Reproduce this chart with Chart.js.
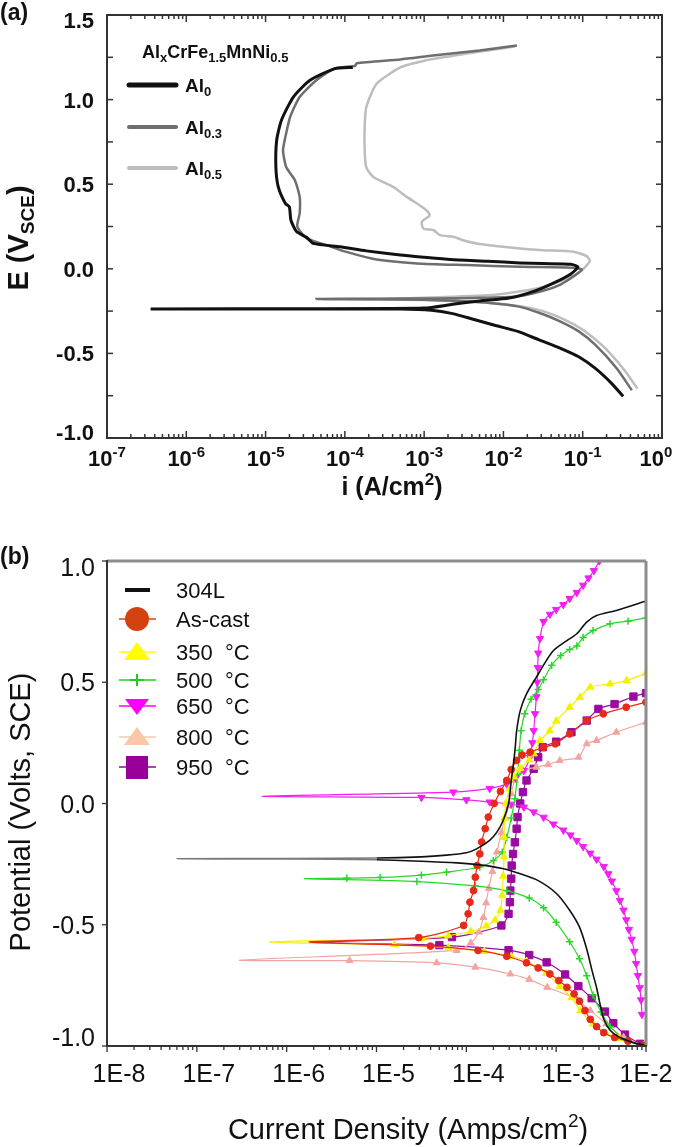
<!DOCTYPE html>
<html>
<head>
<meta charset="utf-8">
<title>Polarization curves</title>
<script src="https://cdn.jsdelivr.net/npm/chart.js@4.4.1/dist/chart.umd.min.js"></script>
<style>
  html, body { margin: 0; padding: 0; background: #fff; }
  #wrap { position: relative; width: 675px; height: 1147px; overflow: hidden; }
  #chartA { position: absolute; left: 0; top: 0; }
  #chartB { position: absolute; left: 0; top: 530px; }
</style>
</head>
<body>
<div id="wrap">
  <canvas id="chartA" width="675" height="530"></canvas>
  <canvas id="chartB" width="675" height="617"></canvas>
</div>
<script>
// ---------- panel (a): [log10 i (A/cm2), E (V vs SCE)], in the order the curve is traced ----------
const al0Curve = [
  [-0.49,-0.754],[-0.63,-0.68],[-0.84,-0.589],[-1.05,-0.52],[-1.28,-0.47],[-1.55,-0.42],[-1.82,-0.37],
  [-2.1,-0.335],[-2.37,-0.30],[-2.64,-0.265],[-2.91,-0.245],[-3.3,-0.238],[-4.5,-0.237],[-6.45,-0.237],
  [-4.5,-0.236],[-3.0,-0.232],[-2.64,-0.21],[-2.3,-0.19],[-1.93,-0.173],[-1.6,-0.13],[-1.35,-0.08],
  [-1.15,-0.03],[-1.06,0.01],[-1.15,0.027],[-1.5,0.031],[-1.79,0.035],[-2.2,0.045],[-2.67,0.055],
  [-3.0,0.068],[-3.3,0.081],[-3.73,0.106],[-4.06,0.13],[-4.4,0.15],[-4.48,0.185],[-4.61,0.22],
  [-4.68,0.287],[-4.70,0.366],[-4.75,0.386],[-4.84,0.484],[-4.87,0.60],[-4.86,0.76],[-4.80,0.878],
  [-4.65,1.015],[-4.44,1.114],[-4.125,1.183],[-3.9,1.19]
];
const al03Curve = [
  [-0.38,-0.718],[-0.57,-0.589],[-0.84,-0.45],[-1.05,-0.37],[-1.28,-0.312],[-1.55,-0.26],[-1.82,-0.222],
  [-2.2,-0.20],[-2.6,-0.19],[-3.0,-0.183],[-3.6,-0.18],[-4.36,-0.178],
  [-3.6,-0.177],[-2.8,-0.175],[-2.37,-0.172],[-1.82,-0.163],[-1.5,-0.13],[-1.28,-0.093],[-1.1,-0.04],
  [-1.01,-0.004],[-1.2,0.008],[-1.79,0.012],[-2.46,0.022],[-3.09,0.032],[-3.6,0.055],[-3.98,0.10],
  [-4.23,0.14],[-4.48,0.18],[-4.60,0.25],[-4.57,0.327],[-4.57,0.425],[-4.63,0.524],[-4.74,0.602],
  [-4.78,0.70],[-4.75,0.779],[-4.69,0.897],[-4.57,1.015],[-4.36,1.114],[-4.13,1.183],[-3.87,1.2],
  [-3.85,1.215],[-3.3,1.237],[-2.89,1.26],[-2.3,1.29],[-1.83,1.32]
];
const al05Curve = [
  [-0.31,-0.708],[-0.49,-0.589],[-0.76,-0.45],[-1.0,-0.36],[-1.23,-0.30],[-1.5,-0.25],[-1.77,-0.222],
  [-2.2,-0.20],[-2.6,-0.19],[-3.0,-0.185],[-3.6,-0.182],[-4.27,-0.18],
  [-3.5,-0.178],[-2.91,-0.169],[-2.1,-0.153],[-1.55,-0.113],[-1.17,-0.054],[-1.0,-0.004],[-0.91,0.046],
  [-0.95,0.075],[-1.12,0.101],[-1.5,0.11],[-1.79,0.12],[-2.1,0.135],[-2.34,0.15],[-2.51,0.169],
  [-2.63,0.189],[-2.8,0.199],[-2.88,0.228],[-3.01,0.238],[-3.03,0.277],[-2.93,0.317],[-2.97,0.346],
  [-3.09,0.386],[-3.22,0.425],[-3.39,0.484],[-3.64,0.543],[-3.73,0.60],[-3.75,0.70],[-3.75,0.838],
  [-3.73,0.956],[-3.6,1.094],[-3.3,1.19],[-3.0,1.23],[-2.6,1.262],[-2.2,1.29],[-1.85,1.315]
];
// text pieces: [text, 0 normal | 1 subscript | 2 superscript]
const legendTitleA = [['Al',0],['x',1],['CrFe',0],['1.5',1],['MnNi',0],['0.5',1]];
const legendLabelsA = [ [['Al',0],['0',1]], [['Al',0],['0.3',1]], [['Al',0],['0.5',1]] ];
const xExpA = [-7, -6, -5, -4, -3, -2, -1, 0];
const yTicksA = [-1, -0.75, -0.5, -0.25, 0, 0.25, 0.5, 0.75, 1, 1.25, 1.5];
const yLabelValsA = [-1, -0.5, 0, 0.5, 1, 1.5];
const yLabelsA = ['-1.0', '-0.5', '0.0', '0.5', '1.0', '1.5'];

// ---------- panel (b): cathodic and anodic branches, both starting at the corrosion potential ----------
const s304LCath = [[-7.22,-0.228],[-6.0,-0.229],[-5.0,-0.232],[-4.5,-0.238],[-4.1,-0.245],[-3.85,-0.253],[-3.6,-0.268],[-3.4,-0.29],[-3.2,-0.318],[-3.0,-0.37],[-2.85,-0.44],[-2.74,-0.51],[-2.66,-0.60],[-2.6,-0.69],[-2.55,-0.76],[-2.51,-0.83],[-2.47,-0.89],[-2.4,-0.935],[-2.3,-0.963],[-2.15,-0.985],[-2.0,-0.997]];
const s304LAnod = [[-7.22,-0.228],[-6.0,-0.227],[-5.0,-0.225],[-4.5,-0.22],[-4.22,-0.213],[-4.0,-0.203],[-3.885,-0.187],[-3.74,-0.152],[-3.66,-0.118],[-3.59,-0.07],[-3.53,0.0],[-3.5,0.095],[-3.47,0.18],[-3.455,0.235],[-3.44,0.30],[-3.4,0.383],[-3.33,0.452],[-3.22,0.521],[-3.11,0.589],[-3.03,0.631],[-2.88,0.672],[-2.77,0.70],[-2.66,0.748],[-2.55,0.775],[-2.33,0.796],[-2.0,0.835]];
const asCastCath = [[-5.75,-0.571],[-4.4,-0.588],[-3.87,-0.606],[-3.55,-0.63],[-3.33,-0.657],[-3.2,-0.678],[-3.07,-0.703],[-2.97,-0.73],[-2.88,-0.758],[-2.8,-0.785],[-2.74,-0.815],[-2.68,-0.854],[-2.62,-0.89],[-2.55,-0.92],[-2.47,-0.945],[-2.35,-0.965],[-2.2,-0.98],[-2.03,-0.997]];
const asCastAnod = [[-5.75,-0.571],[-4.53,-0.553],[-4.03,-0.503],[-3.98,-0.455],[-3.96,-0.407],[-3.92,-0.359],[-3.9,-0.304],[-3.88,-0.256],[-3.85,-0.208],[-3.83,-0.159],[-3.79,-0.104],[-3.755,-0.056],[-3.69,0.0],[-3.62,0.05],[-3.55,0.095],[-3.5,0.14],[-3.44,0.178],[-3.38,0.2],[-3.29,0.212],[-3.14,0.232],[-3.01,0.246],[-2.85,0.287],[-2.66,0.342],[-2.475,0.37],[-2.22,0.397],[-2.0,0.418]];
const t350Cath = [[-6.19,-0.571],[-4.8,-0.582],[-4.2,-0.595],[-3.8,-0.61],[-3.5,-0.63],[-3.33,-0.65],[-3.11,-0.70],[-2.96,-0.755],[-2.83,-0.80],[-2.73,-0.854],[-2.59,-0.909],[-2.45,-0.945],[-2.3,-0.968],[-2.02,-0.997]];
const t350Anod = [[-6.19,-0.571],[-4.5,-0.557],[-4.2,-0.545],[-3.95,-0.528],[-3.78,-0.505],[-3.68,-0.48],[-3.62,-0.44],[-3.6,-0.38],[-3.59,-0.30],[-3.58,-0.22],[-3.58,-0.14],[-3.575,-0.06],[-3.56,0.0],[-3.52,0.06],[-3.47,0.11],[-3.4,0.145],[-3.3,0.18],[-3.25,0.205],[-3.18,0.26],[-3.07,0.30],[-3.0,0.34],[-2.85,0.397],[-2.735,0.438],[-2.62,0.48],[-2.4,0.493],[-2.215,0.507],[-2.0,0.537]];
const t500Cath = [[-5.8,-0.31],[-4.55,-0.322],[-3.9,-0.34],[-3.55,-0.36],[-3.3,-0.39],[-3.14,-0.43],[-3.0,-0.49],[-2.85,-0.57],[-2.74,-0.64],[-2.66,-0.71],[-2.59,-0.79],[-2.5,-0.86],[-2.4,-0.92],[-2.22,-0.975],[-2.03,-0.997]];
const t500Anod = [[-5.8,-0.31],[-5.33,-0.308],[-4.96,-0.305],[-4.5,-0.295],[-4.22,-0.283],[-3.85,-0.262],[-3.7,-0.235],[-3.6,-0.2],[-3.55,-0.14],[-3.5,-0.06],[-3.46,0.02],[-3.43,0.12],[-3.41,0.22],[-3.39,0.3],[-3.35,0.37],[-3.28,0.43],[-3.2,0.47],[-3.14,0.51],[-3.05,0.57],[-2.95,0.61],[-2.85,0.635],[-2.77,0.65],[-2.7,0.685],[-2.59,0.713],[-2.4,0.741],[-2.2,0.752],[-2.0,0.765]];
const t650Cath = [[-6.27,0.03],[-4.5,0.025],[-4.0,0.015],[-3.74,0.006],[-3.5,-0.003],[-3.36,-0.015],[-3.25,-0.035],[-3.14,-0.057],[-3.03,-0.085],[-2.92,-0.11],[-2.84,-0.13],[-2.77,-0.153],[-2.7,-0.178],[-2.62,-0.205],[-2.55,-0.23],[-2.47,-0.26],[-2.42,-0.29],[-2.38,-0.32],[-2.33,-0.36],[-2.29,-0.40],[-2.25,-0.44],[-2.22,-0.48],[-2.19,-0.52],[-2.16,-0.56],[-2.13,-0.61],[-2.11,-0.66],[-2.09,-0.71],[-2.07,-0.76],[-2.055,-0.81],[-2.045,-0.87]];
const t650Anod = [[-6.27,0.03],[-4.145,0.047],[-3.74,0.062],[-3.55,0.08],[-3.45,0.105],[-3.36,0.136],[-3.29,0.19],[-3.265,0.25],[-3.25,0.3],[-3.235,0.37],[-3.22,0.44],[-3.21,0.5],[-3.205,0.56],[-3.2,0.62],[-3.18,0.68],[-3.14,0.75],[-3.07,0.78],[-3.0,0.80],[-2.92,0.82],[-2.85,0.845],[-2.77,0.87],[-2.7,0.9],[-2.64,0.93],[-2.58,0.96],[-2.52,1.0]];
const t800Cath = [[-6.52,-0.646],[-5.3,-0.648],[-4.33,-0.657],[-3.9,-0.675],[-3.51,-0.703],[-3.3,-0.725],[-3.1,-0.758],[-2.81,-0.80],[-2.62,-0.854],[-2.44,-0.909],[-2.25,-0.964],[-2.03,-0.997]];
const t800Anod = [[-6.52,-0.646],[-4.108,-0.606],[-3.95,-0.575],[-3.86,-0.53],[-3.81,-0.47],[-3.78,-0.41],[-3.75,-0.35],[-3.71,-0.28],[-3.66,-0.2],[-3.61,-0.12],[-3.57,-0.06],[-3.53,-0.01],[-3.5,0.04],[-3.46,0.095],[-3.37,0.136],[-3.22,0.15],[-3.09,0.16],[-2.96,0.177],[-2.75,0.191],[-2.66,0.246],[-2.55,0.26],[-2.33,0.294],[-2.0,0.335]];
const t950Cath = [[-5.7,-0.572],[-4.3,-0.584],[-3.53,-0.605],[-3.3,-0.625],[-3.106,-0.655],[-2.9,-0.705],[-2.753,-0.753],[-2.605,-0.803],[-2.457,-0.858],[-2.364,-0.906],[-2.234,-0.953],[-2.067,-0.991]];
const t950Anod = [[-5.7,-0.572],[-4.16,-0.551],[-3.61,-0.503],[-3.53,-0.455],[-3.515,-0.407],[-3.51,-0.359],[-3.5,-0.31],[-3.495,-0.256],[-3.48,-0.208],[-3.46,-0.16],[-3.44,-0.104],[-3.43,-0.056],[-3.4,0.0],[-3.37,0.047],[-3.33,0.095],[-3.25,0.143],[-3.2,0.191],[-3.15,0.232],[-3.0,0.255],[-2.83,0.294],[-2.66,0.342],[-2.53,0.39],[-2.35,0.41],[-2.14,0.441],[-2.0,0.455]];
const seriesNamesB = ['304L', 'As-cast', '350  °C', '500  °C', '650  °C', '800  °C', '950  °C'];
const xExpB = [-8, -7, -6, -5, -4, -3, -2];
const xLabelsB = ['1E-8', '1E-7', '1E-6', '1E-5', '1E-4', '1E-3', '1E-2'];
const yTicksB = [-1, -0.5, 0, 0.5, 1];
const yLabelsB = ['-1.0', '-0.5', '0.0', '0.5', '1.0'];

// ---------- styles ----------
const FONT = "'Liberation Sans', Arial, Helvetica, sans-serif";
const colorsA = ['#111111', '#6e6e6e', '#bdbdbd'];
const widthsA = [3, 2.5, 2.5];
const colorsB = ['#111111', '#e62a1a', '#f2f200', '#2ad62a', '#f020f0', '#f4a4a0', '#9a0aa0'];
const legendColorsB = ['#111111', '#d4420f', '#ffff00', '#22cc22', '#ff00ff', '#f8c8a8', '#990099'];
const pointStylesB = [false, 'circle', 'triangle', 'cross', 'triangle', 'triangle', 'rect'];
const pointRotB = [0, 0, 0, 0, 180, 0, 0];
const pointSizeB = [0, 3.4, 4.2, 3.6, 4.2, 4.0, 5.2];
const legendShapesB = ['line', 'circle', 'triangle', 'cross', 'triangleDown', 'triangle', 'rect'];

function toXY(p) { return { x: Math.pow(10, p[0]), y: p[1] }; }

function clamp(v, lo, hi) { return Math.max(lo, Math.min(hi, v)); }

function seg(ctx, x1, y1, x2, y2) {
  ctx.beginPath(); ctx.moveTo(x1, y1); ctx.lineTo(x2, y2); ctx.stroke();
}

// text with sub/superscripts
function rich(ctx, parts, x, y, o) {
  const size = o.size, small = o.small || Math.round(size * 0.68);
  const w = o.weight || 'normal';
  const f = k => w + ' ' + (k ? small : size) + 'px ' + FONT;
  let total = 0;
  for (const [t, k] of parts) { ctx.font = f(k); total += ctx.measureText(t).width; }
  let cx = o.align === 'center' ? x - total / 2 : (o.align === 'right' ? x - total : x);
  ctx.textAlign = 'left';
  ctx.textBaseline = 'alphabetic';
  for (const [t, k] of parts) {
    ctx.font = f(k);
    ctx.fillText(t, cx, y + (k === 1 ? size * 0.22 : (k === 2 ? -size * 0.42 : 0)));
    cx += ctx.measureText(t).width;
  }
}

function richUp(ctx, parts, x, y, o) {
  ctx.save();
  ctx.translate(x, y);
  ctx.rotate(-Math.PI / 2);
  rich(ctx, parts, 0, 0, Object.assign({ align: 'center' }, o));
  ctx.restore();
}

// ---------- panel (a) ----------
const panelAPlugin = {
  id: 'panelA',
  afterDraw(chart) {
    const { ctx, chartArea: a, scales: { x, y } } = chart;
    ctx.save();
    ctx.strokeStyle = '#333';
    ctx.lineWidth = 2;
    ctx.strokeRect(a.left, a.top, a.right - a.left, a.bottom - a.top);
    ctx.lineWidth = 1.5;
    yTicksA.forEach(v => {
      const py = y.getPixelForValue(v);
      seg(ctx, a.left, py, a.left + 6, py);
      seg(ctx, a.right, py, a.right - 6, py);
    });
    xExpA.forEach((e, i) => {
      const px = x.getPixelForValue(Math.pow(10, e));
      seg(ctx, px, a.bottom, px, a.bottom - 7);
      seg(ctx, px, a.top, px, a.top + 7);
      if (i < xExpA.length - 1) {
        for (let k = 2; k <= 9; k++) {
          const mx = x.getPixelForValue(k * Math.pow(10, e));
          seg(ctx, mx, a.bottom, mx, a.bottom - 4);
          seg(ctx, mx, a.top, mx, a.top + 4);
        }
      }
    });
    ctx.fillStyle = '#111';
    yLabelValsA.forEach((v, i) => {
      const cy = clamp(y.getPixelForValue(v), a.top + 5, a.bottom - 6);
      rich(ctx, [[yLabelsA[i], 0]], a.left - 13, cy + 8, { size: 22, weight: 'bold', align: 'right' });
    });
    xExpA.forEach(e => {
      const cx = Math.min(x.getPixelForValue(Math.pow(10, e)), 656);
      rich(ctx, [['10', 0], [String(e), 2]], cx, a.bottom + 28,
        { size: 22, small: 15, weight: 'bold', align: 'center' });
    });
    rich(ctx, [['i (A/cm', 0], ['2', 2], [')', 0]], 392, 495, { size: 25, small: 17, weight: 'bold', align: 'center' });
    richUp(ctx, [['E (V', 0], ['SCE', 1], [')', 0]], 28, 238, { size: 29, small: 19, weight: 'bold' });
    rich(ctx, [['(a)', 0]], 0, 20, { size: 23, weight: 'bold' });

    // legend
    rich(ctx, legendTitleA, 142, 58, { size: 18, small: 13, weight: 'bold' });
    const ly = [85, 127, 168];
    legendLabelsA.forEach((lab, i) => {
      ctx.strokeStyle = colorsA[i];
      ctx.lineWidth = i === 0 ? 5 : 4;
      ctx.lineCap = 'round';
      seg(ctx, 129, ly[i], 176, ly[i]);
      rich(ctx, lab, 185, ly[i] + 7, { size: 19, small: 13, weight: 'bold' });
    });
    ctx.restore();
  }
};

new Chart(document.getElementById('chartA'), {
  type: 'line',
  data: {
    datasets: [al0Curve, al03Curve, al05Curve].map((c, i) => ({
      data: c.map(toXY),
      borderColor: colorsA[i],
      borderWidth: widthsA[i],
      pointRadius: 0,
      tension: 0.2,
      fill: false
    }))
  },
  options: {
    responsive: false,
    animation: false,
    layout: { padding: { left: 0, right: 13, top: 15, bottom: 0 } },
    plugins: { legend: { display: false }, tooltip: { enabled: false } },
    scales: {
      x: {
        type: 'logarithmic', min: 1e-7, max: 1,
        ticks: { display: false }, grid: { display: false }, border: { display: false },
        afterFit: s => { s.height = 92; }
      },
      y: {
        type: 'linear', min: -1, max: 1.5,
        ticks: { display: false }, grid: { display: false }, border: { display: false },
        afterFit: s => { s.width = 107; }
      }
    }
  },
  plugins: [panelAPlugin]
});

// ---------- panel (b) ----------
function legendMarker(ctx, shape, cx, cy, color) {
  ctx.fillStyle = color;
  ctx.strokeStyle = color;
  ctx.beginPath();
  if (shape === 'circle') {
    ctx.arc(cx, cy, 12, 0, Math.PI * 2); ctx.fill();
  } else if (shape === 'triangle') {
    ctx.moveTo(cx, cy - 10); ctx.lineTo(cx + 13, cy + 8); ctx.lineTo(cx - 13, cy + 8); ctx.closePath(); ctx.fill();
  } else if (shape === 'triangleDown') {
    ctx.moveTo(cx, cy + 9); ctx.lineTo(cx + 12, cy - 7); ctx.lineTo(cx - 12, cy - 7); ctx.closePath(); ctx.fill();
  } else if (shape === 'rect') {
    ctx.fillRect(cx - 11, cy - 11, 22, 23);
  } else if (shape === 'cross') {
    ctx.lineWidth = 2;
    seg(ctx, cx - 7, cy, cx + 7, cy);
    seg(ctx, cx, cy - 6, cx, cy + 6);
  }
}

const panelBPlugin = {
  id: 'panelB',
  afterDraw(chart) {
    const { ctx, chartArea: a, scales: { x, y } } = chart;
    ctx.save();
    ctx.strokeStyle = '#8c8c8c';
    ctx.lineWidth = 3;
    seg(ctx, a.left, a.top, a.right, a.top);
    seg(ctx, a.right, a.top, a.right, a.bottom);
    ctx.strokeStyle = '#333';
    ctx.lineWidth = 2;
    seg(ctx, a.left, a.top - 1, a.left, a.bottom + 1);
    seg(ctx, a.left - 1, a.bottom, a.right + 1, a.bottom);
    ctx.lineWidth = 1.3;
    yTicksB.forEach(v => {
      const py = y.getPixelForValue(v);
      seg(ctx, a.left, py, a.left - 5, py);
    });
    xExpB.forEach((e, i) => {
      const px = x.getPixelForValue(Math.pow(10, e));
      seg(ctx, px, a.bottom, px, a.bottom + 6);
      if (i < xExpB.length - 1) {
        for (let k = 2; k <= 9; k++) {
          const mx = x.getPixelForValue(k * Math.pow(10, e));
          seg(ctx, mx, a.bottom, mx, a.bottom + 4);
        }
      }
    });
    ctx.fillStyle = '#111';
    yTicksB.forEach((v, i) => {
      const cy = clamp(y.getPixelForValue(v), a.top + 6, a.bottom - 9);
      rich(ctx, [[yLabelsB[i], 0]], a.left - 12, cy + 9, { size: 25, align: 'right' });
    });
    xExpB.forEach((e, i) => {
      const px = Math.min(x.getPixelForValue(Math.pow(10, e)) + 12, 646);
      rich(ctx, [[xLabelsB[i], 0]], px, a.bottom + 36, { size: 25, align: 'center' });
    });
    rich(ctx, [['Current Density (Amps/cm', 0], ['2', 2], [')', 0]], 408, 609, { size: 29, small: 19, align: 'center' });
    richUp(ctx, [['Potential (Volts, SCE)', 0]], 30, 282, { size: 29 });
    rich(ctx, [['(b)', 0]], 0, 34, { size: 23, weight: 'bold' });

    // legend
    const ly = [60, 89, 122, 150, 176, 207, 237];
    seriesNamesB.forEach((name, i) => {
      ctx.strokeStyle = legendColorsB[i];
      if (legendShapesB[i] === 'line') {
        ctx.lineWidth = 4;
        seg(ctx, 125, ly[i], 150, ly[i]);
      } else {
        ctx.lineWidth = 1.5;
        seg(ctx, 119, ly[i], 156, ly[i]);
        legendMarker(ctx, legendShapesB[i], 137, ly[i], legendColorsB[i]);
      }
      ctx.fillStyle = '#111';
      rich(ctx, [[name, 0]], 176, ly[i] + 8, { size: 22 });
    });
    ctx.restore();
  }
};

const branchesB = [
  [s304LCath, s304LAnod], [asCastCath, asCastAnod], [t350Cath, t350Anod], [t500Cath, t500Anod],
  [t650Cath, t650Anod], [t800Cath, t800Anod], [t950Cath, t950Anod]
];

const datasetsB = branchesB.map(([cath, anod], i) => {
  const tip = cath.length - 1;
  const pts = cath.slice().reverse().concat(anod.slice(1)).map(toXY);
  const ds = {
    data: pts,
    borderColor: colorsB[i],
    borderWidth: i === 0 ? 1.6 : 1.2,
    tension: 0.25,
    fill: false,
    pointStyle: pointStylesB[i] || 'circle',
    pointRotation: pointRotB[i],
    pointRadius: ctx => (pointSizeB[i] && ctx.dataIndex !== tip ? pointSizeB[i] : 0),
    pointBackgroundColor: colorsB[i],
    pointBorderColor: colorsB[i],
    pointBorderWidth: pointStylesB[i] === 'cross' ? 1.5 : 1
  };
  if (i === 0) {
    // the dense low-current part of the 304L trace prints grey
    ds.segment = { borderColor: c => (Math.max(c.p0.parsed.x, c.p1.parsed.x) <= 1.01e-5 ? '#7a7a7a' : '#111111') };
  }
  return ds;
});

new Chart(document.getElementById('chartB'), {
  type: 'line',
  data: { datasets: datasetsB },
  options: {
    responsive: false,
    animation: false,
    layout: { padding: { left: 0, right: 29, top: 31, bottom: 0 } },
    plugins: { legend: { display: false }, tooltip: { enabled: false } },
    scales: {
      x: {
        type: 'logarithmic', min: 1e-8, max: 1e-2,
        ticks: { display: false }, grid: { display: false }, border: { display: false },
        afterFit: s => { s.height = 101; }
      },
      y: {
        type: 'linear', min: -1, max: 1,
        ticks: { display: false }, grid: { display: false }, border: { display: false },
        afterFit: s => { s.width = 107; }
      }
    }
  },
  plugins: [panelBPlugin]
});
</script>
</body>
</html>
